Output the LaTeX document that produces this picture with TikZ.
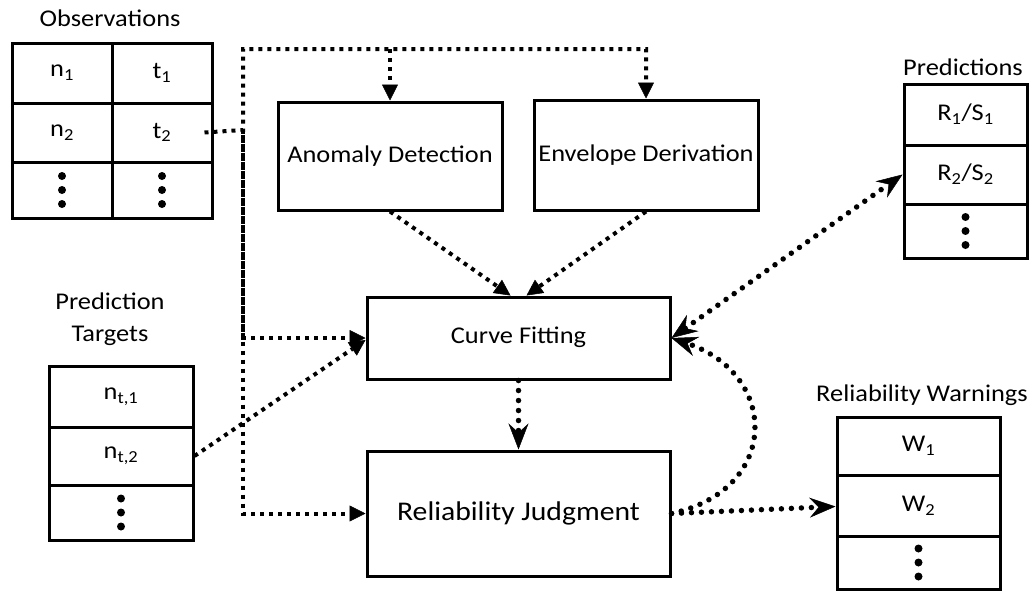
\documentclass[tikz,border=0pt]{standalone}
\usepackage{fontspec}
\setmainfont{Carlito}[FakeStretch=1.1]
\usetikzlibrary{arrows.meta,calc}
\begin{document}
\begin{tikzpicture}[x=1pt,y=-1pt,
 every node/.style={font=\fontsize{24}{28}\selectfont},
 box/.style={draw,line width=3pt,inner sep=0pt},
 sq/.style={line width=4pt,dash pattern=on 4pt off 5pt},
 rd/.style={line width=5.5pt,line cap=round,dash pattern=on 0pt off 10pt},
 tri/.style={-{Triangle[length=16pt,width=16pt,line width=0.5pt]}},
 stl/.style={-{Stealth[length=26pt,width=20pt,inset=9pt,line width=0.5pt]}},
 stlb/.style={{Stealth[length=26pt,width=20pt,inset=9pt,line width=0.5pt]}-{Stealth[length=26pt,width=20pt,inset=9pt,line width=0.5pt]}},
]
\useasboundingbox (0,0) rectangle (1036,592);

% Observations table
\node (obsl) at (110,18) {Observations};
\node[box,minimum width=100pt,minimum height=60pt] (o11) at (62,73) {n\textsubscript{1}};
\node[box,minimum width=100pt,minimum height=60pt] (o12) at (162,73) {t\textsubscript{1}};
\node[box,minimum width=100pt,minimum height=59pt] (o21) at (62,132.5) {n\textsubscript{2}};
\node[box,minimum width=100pt,minimum height=59pt] (o22) at (162,132.5) {t\textsubscript{2}};
\node[box,minimum width=100pt,minimum height=56pt] (o31) at (62,190) {};
\node[box,minimum width=100pt,minimum height=56pt] (o32) at (162,190) {};

% Prediction targets
\node[align=center,font=\fontsize{24}{32}\selectfont] (tgl) at (110,319) {Prediction\\Targets};
\node[box,minimum width=144pt,minimum height=61pt] (t1) at (121,396.5) {n\textsubscript{t,1}};
\node[box,minimum width=144pt,minimum height=58pt] (t2) at (121,456) {n\textsubscript{t,2}};
\node[box,minimum width=144pt,minimum height=55pt] (t3) at (121,512.5) {};

% Predictions
\node (prl) at (963,67) {Predictions};
\node[box,minimum width=123pt,minimum height=61pt] (p1) at (965.5,114.5) {R\textsubscript{1}/S\textsubscript{1}};
\node[box,minimum width=123pt,minimum height=59pt] (p2) at (965.5,174.5) {R\textsubscript{2}/S\textsubscript{2}};
\node[box,minimum width=123pt,minimum height=54pt] (p3) at (965.5,231) {};

% Warnings
\node (wl) at (922,395) {Reliability Warnings};
\node[box,minimum width=163pt,minimum height=58pt] (w1) at (918.5,446) {W\textsubscript{1}};
\node[box,minimum width=163pt,minimum height=61pt] (w2) at (918.5,505.5) {W\textsubscript{2}};
\node[box,minimum width=163pt,minimum height=53pt] (w3) at (918.5,562.5) {};

% dots
\foreach \n in {o31,o32,t3,p3,w3}{
  \foreach \d in {-14,0,14}{
    \fill (\n.center) ++(0,\d) circle[radius=4pt];
  }
}

% Process boxes
\node[box,minimum width=224pt,minimum height=108pt] (an) at (390,156) {\raisebox{3pt}{Anomaly Detection}};
\node[box,minimum width=224pt,minimum height=110pt] (en) at (646,155) {\raisebox{3pt}{Envelope Derivation}};
\node[box,minimum width=303pt,minimum height=82pt] (cf) at (518.5,338) {\raisebox{5pt}{Curve Fitting}};
\node[box,minimum width=303pt,minimum height=125pt,font=\fontsize{27}{32}\selectfont] (rj) at (518.5,513.5) {\raisebox{5pt}{Reliability Judgment}};

% Connectors from observations
\coordinate (start) at ([xshift=-9pt]o22.east);
\coordinate (split) at (243,130);
\coordinate (top) at (243,49);
\draw[sq,tri] (start) -- (split) -- (top) -| (en.north);
\draw[sq,tri] (top -| an.north) -- (an.north);
\draw[sq,tri] (split) |- (cf.west);
\draw[sq,tri,dash phase=4.5pt] (split) |- (rj.west);
\draw[sq,tri] (t2.east) -- ([yshift=-2pt]cf.west);

\draw[sq,tri] (an.south) -- ([xshift=-8pt]cf.north);
\draw[sq,tri] (en.south) -- ([xshift=8pt]cf.north);

% round dotted
\draw[rd,stl] (cf.south) -- (rj.north);
\draw[rd,stlb] (cf.east) -- (p2.west);
\draw[rd,stl] (rj.east) -- ([yshift=-1pt]w2.west);
\draw[rd,stl] (rj.east) .. controls (780,490) and (780,375) .. (cf.east);
\end{tikzpicture}
\end{document}
